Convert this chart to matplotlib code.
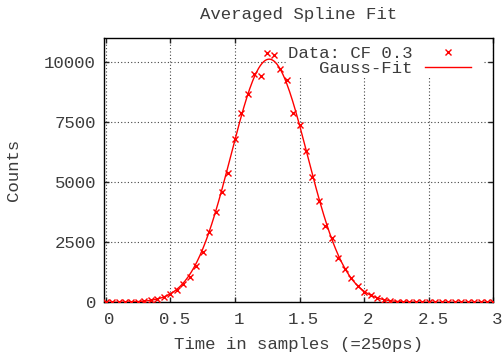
import numpy as np
import matplotlib
matplotlib.use("Agg")
import matplotlib.pyplot as plt
from matplotlib.patches import Rectangle
from matplotlib.transforms import ScaledTranslation

# Datos (x en muestras, y en cuentas)
x_data = [0.00, 0.05, 0.10, 0.15, 0.20, 0.25, 0.30, 0.35, 0.40, 0.45,
          0.50, 0.55, 0.60, 0.65, 0.70, 0.75, 0.80, 0.85, 0.90, 0.95,
          1.00, 1.05, 1.10, 1.15, 1.20, 1.25, 1.30, 1.35, 1.40, 1.45,
          1.50, 1.55, 1.60, 1.65, 1.70, 1.75, 1.80, 1.85, 1.90, 1.95,
          2.00, 2.05, 2.10, 2.15, 2.20, 2.25, 2.30, 2.35, 2.40, 2.45,
          2.50, 2.55, 2.60, 2.65, 2.70, 2.75, 2.80, 2.85, 2.90, 2.95,
          3.00]
y_data = [0, 0, 0, 5, 10, 20, 40, 80, 137, 221,
          333, 512, 750, 1067, 1512, 2083, 2917, 3775, 4583, 5375,
          6804, 7875, 8667, 9500, 9442, 10375, 10317, 9708, 9262, 7875,
          7387, 6304, 5233, 4221, 3179, 2667, 1858, 1387, 1025, 679,
          442, 292, 179, 100, 60, 30, 15, 8, 0, 0,
          0, 0, 0, 0, 0, 0, 0, 0, 0, 0,
          0]

# Parametros del ajuste gaussiano (estimados del grafico)
fit_amp = 10130
fit_mu = 1.265
fit_sigma = 0.295

x_ticks = [0, 0.5, 1, 1.5, 2, 2.5, 3]
x_ticklabels = ["0", "0.5", "1", "1.5", "2", "2.5", "3"]
y_ticks = [0, 2500, 5000, 7500, 10000]

fuente = "Liberation Mono"
tam = 12.5
color_texto = "#3c3c3c"

fig = plt.figure(figsize=(5.03, 3.55), dpi=100)
ax = fig.add_axes([0.2074, 0.1485, 0.7737, 0.7437])

x_fit = np.linspace(-0.01, 3.0, 400)
y_fit = fit_amp * np.exp(-(x_fit - fit_mu) ** 2 / (2 * fit_sigma ** 2))

ax.plot(x_data, y_data, linestyle="none", marker="x", color="#ff0000",
        markersize=4.5, markeredgewidth=1.0, label="Data: CF 0.3", zorder=4)
ax.plot(x_fit, y_fit, color="#ff0000", linewidth=1.0, label="Gauss-Fit", zorder=3)

ax.set_xlim(-0.01, 3.0)
ax.set_ylim(0, 11000)
ax.set_xticks(x_ticks)
ax.set_xticklabels(x_ticklabels)
ax.set_yticks(y_ticks)

ax.grid(True, linestyle=(0, (1, 2)), color="#444444", linewidth=0.8)
ax.tick_params(direction="in", length=3.6, width=1, top=True, right=True,
               labelsize=tam, labelcolor=color_texto, colors="#222222")
ax.tick_params(axis="x", pad=7)
ax.tick_params(axis="y", pad=6)
for lab in ax.get_xticklabels() + ax.get_yticklabels():
    lab.set_fontfamily(fuente)
for lab in ax.get_xticklabels():
    lab.set_transform(lab.get_transform() + ScaledTranslation(4 / 100, 0, fig.dpi_scale_trans))
for s in ax.spines.values():
    s.set_linewidth(1.0)
    s.set_color("black")

ax.set_title("Averaged Spline Fit", fontfamily=fuente, fontsize=tam,
             color=color_texto, pad=14)
ax.set_xlabel("Time in samples (=250ps)", fontfamily=fuente, fontsize=tam,
              color=color_texto, labelpad=7.5)
ax.set_ylabel("Counts", fontfamily=fuente, fontsize=tam, color=color_texto,
              labelpad=17)

# Fondo blanco de la leyenda (sin borde), como en gnuplot
ax.add_patch(Rectangle((0.468, 0.8497), 0.504, 0.1503, transform=ax.transAxes,
                       facecolor="white", edgecolor="none", zorder=2.5))
leg = ax.legend(loc="upper right", bbox_to_anchor=(0.9434, 0.97), markerfirst=False,
                frameon=False, borderpad=0, borderaxespad=0, labelspacing=0.0,
                handlelength=2.65, handletextpad=0.75,
                prop={"family": fuente, "size": tam})
for t in leg.get_texts():
    t.set_color(color_texto)
leg.set_zorder(5)

fig.savefig("out.png", dpi=100)
